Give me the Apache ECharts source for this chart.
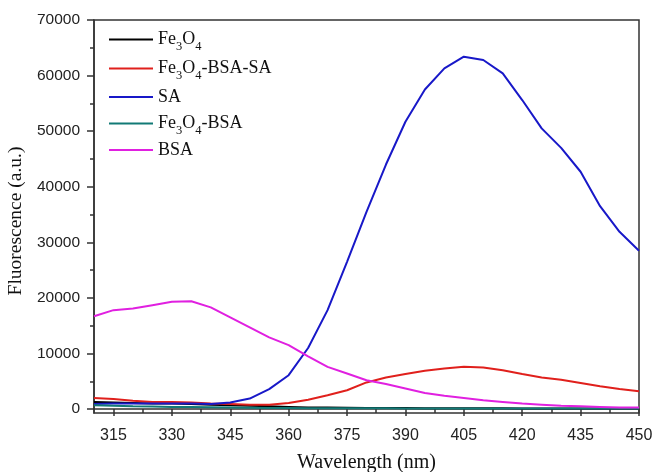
<!DOCTYPE html>
<html>
<head>
<meta charset="utf-8">
<script src="https://cdn.jsdelivr.net/npm/echarts@6/dist/echarts.min.js"></script>
<style>
  html, body { margin: 0; padding: 0; background: #fff; }
  #chart { width: 654px; height: 472px; }
</style>
</head>
<body>
<div id="chart"></div>
<script>
// wavelength (nm), 5 nm steps
var wavelength = [310, 315, 320, 325, 330, 335, 340, 345, 350, 355, 360, 365, 370, 375, 380, 385, 390, 395, 400, 405, 410, 415, 420, 425, 430, 435, 440, 445, 450]

var fe3o4 = [1300, 1200, 1100, 1000, 1000, 900, 800, 700, 600, 500, 400, 300, 300, 250, 200, 200, 200, 150, 150, 150, 150, 150, 100, 100, 100, 100, 100, 100, 100]
var fe3o4BsaSa = [2000, 1800, 1500, 1300, 1300, 1200, 1000, 900, 800, 800, 1100, 1700, 2500, 3400, 4800, 5700, 6300, 6900, 7300, 7600, 7500, 7000, 6300, 5700, 5300, 4700, 4100, 3600, 3200]
var sa = [900, 1000, 1000, 1000, 1000, 1000, 900, 1200, 1900, 3600, 6100, 11000, 17800, 26500, 35500, 44000, 51700, 57500, 61300, 63400, 62800, 60400, 55600, 50500, 47000, 42700, 36500, 31900, 28500]
var fe3o4Bsa = [700, 600, 500, 450, 400, 400, 350, 300, 250, 200, 200, 150, 150, 150, 150, 150, 100, 100, 100, 100, 100, 100, 100, 100, 100, 100, 100, 100, 100]
var bsa = [16700, 17800, 18100, 18700, 19300, 19400, 18300, 16500, 14700, 12900, 11500, 9500, 7600, 6400, 5200, 4500, 3700, 2900, 2400, 2000, 1600, 1300, 1000, 800, 600, 500, 400, 300, 300]

var xTicks = [315, 330, 345, 360, 375, 390, 405, 420, 435, 450]
var xMinorTicks = [322.5, 337.5, 352.5, 367.5, 382.5, 397.5, 412.5, 427.5, 442.5]
var yTicks = [0, 10000, 20000, 30000, 40000, 50000, 60000, 70000]
var yMinorTicks = [5000, 15000, 25000, 35000, 45000, 55000, 65000]

var seriesNames = ['Fe3O4', 'Fe3O4-BSA-SA', 'SA', 'Fe3O4-BSA', 'BSA']
var seriesValues = [fe3o4, fe3o4BsaSa, sa, fe3o4Bsa, bsa]
var colorList = ['#000000', '#e0201c', '#1818c8', '#127a76', '#e020e0']

var legendLabels = {
  'Fe3O4': '{n|Fe}{s|3}{n|O}{s|4}',
  'Fe3O4-BSA-SA': '{n|Fe}{s|3}{n|O}{s|4}{n|-BSA-SA}',
  'SA': '{n|SA}',
  'Fe3O4-BSA': '{n|Fe}{s|3}{n|O}{s|4}{n|-BSA}',
  'BSA': '{n|BSA}'
}
// legend row tops (px)
var legendTops = [26, 55, 88, 110, 141]

var chart = echarts.init(document.getElementById('chart'))

var axisColor = '#333333'
var serif = '"Liberation Serif", "Times New Roman", serif'
var sans = '"Liberation Sans", Arial, sans-serif'

function makeLegend(name, i) {
  return {
    data: [name],
    left: 109,
    top: legendTops[i],
    padding: 0,
    itemWidth: 44,
    itemHeight: 14,
    icon: 'path://M0,6 L44,6 L44,8 L0,8 Z',
    formatter: function (n) {
      return legendLabels[n]
    },
    textStyle: {
      color: '#111',
      fontFamily: serif,
      rich: {
        n: { fontFamily: serif, fontSize: 18, lineHeight: 22, color: '#111' },
        s: { fontFamily: serif, fontSize: 12.5, lineHeight: 14, padding: [14, 0, 0, 0], color: '#111' }
      }
    }
  }
}

chart.setOption({
  animation: false,
  color: colorList,
  grid: {
    left: 94,
    right: 15,
    top: 20,
    bottom: 59,
    show: true,
    borderColor: axisColor,
    borderWidth: 1.5,
    containLabel: false,
    outerBoundsMode: 'none'
  },
  legend: seriesNames.map(makeLegend),
  xAxis: [
    {
      type: 'value',
      min: 310,
      max: 450,
      name: 'Wavelength (nm)',
      nameLocation: 'middle',
      nameGap: 40,
      nameTextStyle: { fontFamily: serif, fontSize: 20, color: '#111' },
      axisLine: { lineStyle: { color: axisColor, width: 1.5 } },
      axisTick: { show: true, customValues: xTicks, length: 7, lineStyle: { color: axisColor, width: 1.5 } },
      axisLabel: { customValues: xTicks, fontFamily: sans, fontSize: 16, color: '#222', margin: 15 },
      splitLine: { show: false }
    },
    {
      type: 'value',
      min: 310,
      max: 450,
      position: 'bottom',
      axisLine: { show: false },
      axisTick: { show: true, customValues: xMinorTicks, length: 4, lineStyle: { color: axisColor, width: 1.5 } },
      axisLabel: { show: false },
      splitLine: { show: false }
    }
  ],
  yAxis: [
    {
      type: 'value',
      min: -700,
      max: 70000,
      name: 'Fluorescence (a.u.)',
      nameLocation: 'middle',
      nameGap: 64,
      nameTextStyle: { fontFamily: serif, fontSize: 19.5, color: '#111', padding: [0, 9, 0, 0] },
      axisLine: { show: true, lineStyle: { color: axisColor, width: 1.5 } },
      axisTick: { show: true, customValues: yTicks, length: 7, lineStyle: { color: axisColor, width: 1.5 } },
      axisLabel: {
        customValues: yTicks,
        fontFamily: sans,
        fontSize: 15.5,
        color: '#222',
        margin: 14,
        formatter: function (v) { return String(v) }
      },
      splitLine: { show: false }
    },
    {
      type: 'value',
      min: -700,
      max: 70000,
      position: 'left',
      axisLine: { show: false },
      axisTick: { show: true, customValues: yMinorTicks, length: 4, lineStyle: { color: axisColor, width: 1.5 } },
      axisLabel: { show: false },
      splitLine: { show: false }
    }
  ],
  series: seriesNames.map(function (name, i) {
    return {
      name: name,
      type: 'line',
      xAxisIndex: 0,
      yAxisIndex: 0,
      symbol: 'none',
      lineStyle: { width: 2, color: colorList[i] },
      itemStyle: { color: colorList[i] },
      data: wavelength.map(function (w, j) {
        return [w, seriesValues[i][j]]
      })
    }
  })
})
</script>
</body>
</html>
